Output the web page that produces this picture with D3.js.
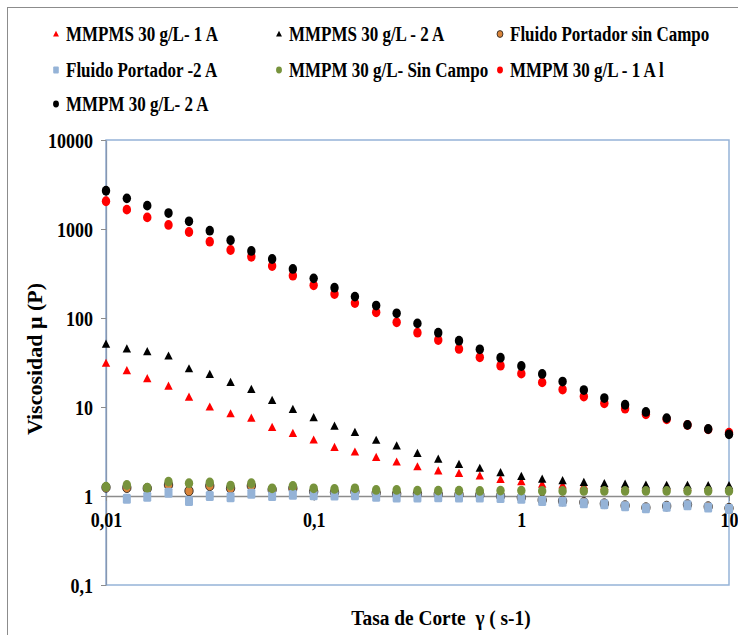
<!DOCTYPE html>
<html>
<head>
<meta charset="utf-8">
<script src="https://cdn.jsdelivr.net/npm/d3@7"></script>
<style>
  html, body { margin: 0; padding: 0; background: #fff; }
  svg { display: block; }
  text { font-family: "Liberation Serif", "Times New Roman", serif; font-weight: bold; fill: #000; white-space: pre; }
</style>
</head>
<body>
<svg id="chart" width="738" height="635"></svg>
<script>
// Shear rate (s-1), 10 points per decade
const shearRate = [0.01, 0.0126, 0.0158, 0.02, 0.0251, 0.0316, 0.0398, 0.0501, 0.0631, 0.0794,
  0.1, 0.126, 0.158, 0.2, 0.251, 0.316, 0.398, 0.501, 0.631, 0.794,
  1, 1.26, 1.58, 2, 2.51, 3.16, 3.98, 5.01, 6.31, 7.94, 10];

// Viscosity (P) for each sample
const mmpms1A = [31, 25.6, 20.8, 17.2, 12.9, 10.0, 8.4, 7.5, 5.9, 5.06,
  4.26, 3.52, 3.12, 2.72, 2.41, 2.13, 1.92, 1.80, 1.68, 1.54,
  1.45, 1.36, 1.33, 1.31, 1.29, 1.28, 1.27, 1.27, 1.26, 1.26, 1.26];
const mmpms2A = [51, 44.9, 41.8, 37.4, 26.9, 23.3, 18.9, 15.8, 11.9, 9.4,
  7.6, 6.1, 5.2, 4.23, 3.65, 3.02, 2.60, 2.27, 2.05, 1.83,
  1.66, 1.55, 1.49, 1.42, 1.38, 1.36, 1.33, 1.32, 1.32, 1.31, 1.31];
const portadorSinCampo = [1.25, 1.24, 1.22, 1.33, 1.14, 1.30, 1.22, 1.30, 1.18, 1.22,
  1.12, 1.10, 1.12, 1.08, 1.06, 1.06, 1.05, 1.04, 1.03, 1.0,
  0.96, 0.90, 0.88, 0.85, 0.82, 0.78, 0.74, 0.77, 0.80, 0.76, 0.73];
const portador2A = [null, 0.93, 0.98, 1.09, 0.88, 1.0, 0.97, 1.06, 1.0, 1.03,
  1.02, 1.01, 1.02, 0.98, 0.96, 0.96, 0.97, 0.96, 0.96, 0.95,
  0.93, 0.88, 0.86, 0.83, 0.81, 0.765, 0.73, 0.755, 0.785, 0.745, 0.715];
const mmpmSinCampo = [1.27, 1.33, 1.24, 1.45, 1.39, 1.42, 1.31, 1.39, 1.22, 1.30,
  1.22, 1.20, 1.22, 1.17, 1.17, 1.15, 1.15, 1.15, 1.14, 1.15,
  1.15, 1.14, 1.14, 1.14, 1.14, 1.14, 1.14, 1.14, 1.14, 1.14, 1.14];
const mmpm1A = [2050, 1650, 1350, 1110, 925, 720, 581, 488, 384, 299,
  233, 186, 147, 116, 89.4, 68.4, 56.6, 44.9, 36.2, 29.1,
  23.7, 18.9, 15.7, 13.1, 11.0, 9.57, 8.28, 7.28, 6.28, 5.61, 5.14];
const mmpm2A = [2690, 2210, 1830, 1510, 1220, 957, 747, 567, 460, 356,
  279, 219, 174, 138, 113, 87, 68.4, 55.6, 44.5, 35.8,
  28.9, 23.5, 19.3, 15.5, 12.6, 10.6, 8.8, 7.5, 6.3, 5.66, 4.93];

const seriesNames = ["MMPMS 30 g/L- 1 A", "MMPMS 30 g/L - 2 A", "Fluido Portador sin Campo",
  "Fluido Portador -2 A", "MMPM 30 g/L- Sin Campo", "MMPM 30 g/L - 1 A l", "MMPM 30 g/L- 2 A"];

const yTickValues = [0.1, 1, 10, 100, 1000, 10000];
const yTickLabels = ["0,1", "1", "10", "100", "1000", "10000"];
const xTickValues = [0.01, 0.1, 1, 10];
const xTickLabels = ["0,01", "0,1", "1", "10"];

const xTitle = "Tasa de Corte  \u03B3 ( s-1)";
const yTitle = "Viscosidad \u03BC (P)";

// Series styling, in drawing order
const series = [
  { name: seriesNames[0], values: mmpms1A,          shape: "triangle", fill: "#ff0000", stroke: "none" },
  { name: seriesNames[1], values: mmpms2A,          shape: "triangle", fill: "#000000", stroke: "none" },
  { name: seriesNames[2], values: portadorSinCampo, shape: "circle",   fill: "#d9843a", stroke: "#1a1a1a" },
  { name: seriesNames[3], values: portador2A,       shape: "square",   fill: "#95b3d7", stroke: "none" },
  { name: seriesNames[4], values: mmpmSinCampo,     shape: "circle",   fill: "#77933c", stroke: "none" },
  { name: seriesNames[5], values: mmpm1A,           shape: "circle",   fill: "#ff0000", stroke: "none" },
  { name: seriesNames[6], values: mmpm2A,           shape: "circle",   fill: "#000000", stroke: "none" }
];

const svg = d3.select("#chart");
const W = 738, H = 635;
const plot = { left: 106, right: 729, top: 140, bottom: 585 };

svg.append("rect").attr("width", W).attr("height", H).attr("fill", "#fff");
// chart frame
svg.append("rect").attr("x", 7.5).attr("y", 7.5).attr("width", W + 10).attr("height", H + 10)
  .attr("fill", "none").attr("stroke", "#8c8c8c").attr("stroke-width", 1);

const x = d3.scaleLog().domain([0.01, 10]).range([plot.left, plot.right]);
const y = d3.scaleLog().domain([0.1, 10000]).range([plot.bottom, plot.top]);

// plot area border
svg.append("rect")
  .attr("x", plot.left).attr("y", plot.top)
  .attr("width", plot.right - plot.left).attr("height", plot.bottom - plot.top)
  .attr("fill", "none").attr("stroke", "#95b3d7").attr("stroke-width", 1.5);

// y axis
const yAxis = svg.append("g")
  .attr("transform", `translate(${plot.left},0)`)
  .call(d3.axisLeft(y).tickValues(yTickValues)
    .tickFormat((d, i) => yTickLabels[i]).tickSize(5).tickSizeOuter(0));
yAxis.select(".domain").attr("stroke", "#8797b0").attr("stroke-width", 1.3);
yAxis.selectAll(".tick line").attr("stroke", "#8c8c8c");
yAxis.selectAll(".tick text")
  .attr("x", 0).attr("dy", null).attr("text-anchor", "end")
  .attr("font-family", null).attr("font-size", null)
  .style("font-size", "20px")
  .attr("transform", "translate(-13,7) scale(0.9,1)");

// x axis crossing at viscosity 1
const xAxis = svg.append("g")
  .attr("transform", `translate(0,${y(1)})`)
  .call(d3.axisBottom(x).tickValues(xTickValues)
    .tickFormat((d, i) => xTickLabels[i]).tickSize(5).tickSizeOuter(0));
xAxis.select(".domain").attr("stroke", "#8c8c8c").attr("stroke-width", 1.3);
xAxis.selectAll(".tick line").attr("stroke", "#8c8c8c");
xAxis.selectAll(".tick text")
  .attr("y", 0).attr("dy", null).attr("text-anchor", "middle")
  .attr("font-family", null).attr("font-size", null)
  .style("font-size", "20px")
  .attr("transform", "translate(0,31) scale(0.9,1)");

// marker drawing
function drawMarker(g, shape, fill, stroke, s) {
  if (shape === "triangle") {
    g.append("path")
      .attr("d", `M0,${-4.6 * s}L${4.2 * s},${3.6 * s}L${-4.2 * s},${3.6 * s}Z`)
      .attr("fill", fill).attr("stroke", stroke);
  } else if (shape === "square") {
    g.append("rect")
      .attr("x", -4 * s).attr("y", -5 * s).attr("width", 8 * s).attr("height", 10 * s)
      .attr("rx", 1.5 * s).attr("fill", fill).attr("stroke", stroke);
  } else {
    g.append("ellipse")
      .attr("rx", 4.2 * s).attr("ry", 4.9 * s)
      .attr("fill", fill).attr("stroke", stroke).attr("stroke-width", 0.8);
  }
}

series.forEach(s => {
  const g = svg.append("g");
  shearRate.forEach((sr, i) => {
    const v = s.values[i];
    if (v == null) return;
    const m = g.append("g").attr("transform", `translate(${x(sr)},${y(v)})`);
    drawMarker(m, s.shape, s.fill, s.stroke, 1);
  });
});

// legend
const legendCols = [56, 279, 500];
const legendRows = [34, 70, 104];
series.forEach((s, i) => {
  const col = i % 3, row = Math.floor(i / 3);
  const cx = legendCols[col], cy = legendRows[row];
  const m = svg.append("g").attr("transform", `translate(${cx},${cy})`);
  drawMarker(m, s.shape, s.fill, s.stroke, 0.7);
  svg.append("text")
    .attr("transform", `translate(${cx + 10},${cy + 7}) scale(0.85,1)`)
    .style("font-size", "20px")
    .text(s.name);
});

// axis titles
svg.append("text")
  .attr("transform", `translate(441,625) scale(0.88,1)`)
  .attr("text-anchor", "middle")
  .style("font-size", "22px")
  .text(xTitle);

svg.append("text")
  .attr("transform", `translate(42,359) rotate(-90)`)
  .attr("text-anchor", "middle")
  .style("font-size", "22px")
  .text(yTitle);
</script>
</body>
</html>
